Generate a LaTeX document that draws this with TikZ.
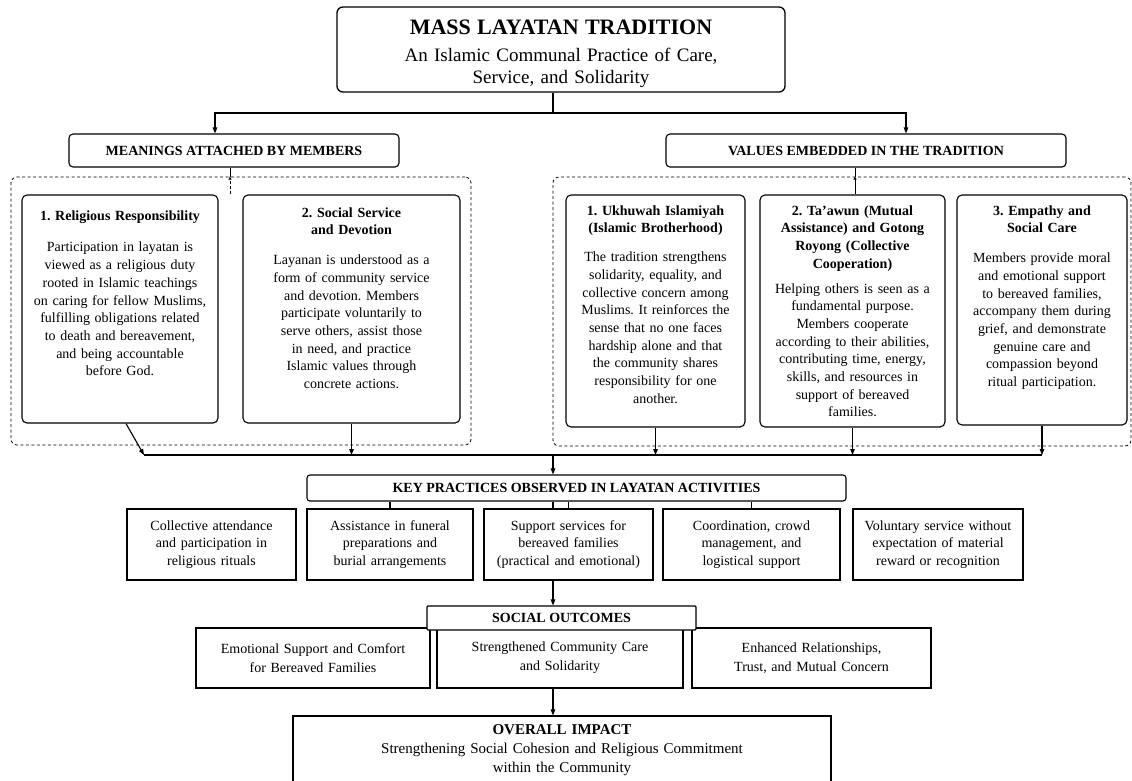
\documentclass[tikz,border=0pt]{standalone}
\usepackage{fontspec}
\setmainfont{Liberation Serif}
\usetikzlibrary{arrows.meta,positioning}
\frenchspacing

\begin{document}
\begin{tikzpicture}[x=1pt,y=-1pt,line width=1.1pt,
    box/.style={draw,rectangle,fill=white,inner sep=0pt,align=center,
      font=\fontsize{14}{17.7}\selectfont},
    hdr/.style={box,rounded corners=4pt,font=\fontsize{14}{17}\selectfont\bfseries},
    card/.style={box,rounded corners=5pt},
    cardtext/.style={anchor=north,inner sep=0pt,align=center,
      font=\fontsize{14}{17.7}\selectfont},
    outcome/.style={box,font=\fontsize{14}{19}\selectfont},
    group/.style={draw,line width=0.8pt,dash pattern=on 3pt off 2.5pt,
      rounded corners=6pt,inner sep=0pt},
    arr/.style={-{Triangle[length=6pt,width=4.5pt]}}]
  \useasboundingbox (0,0) rectangle (1132,780);

  % top
  \node[box,rounded corners=6pt,line width=1.3pt,minimum width=448,minimum height=85]
    (title) at (561,49.5) {};
  \node[inner sep=0pt,align=center,text width=440,font=\fontsize{19}{22}\selectfont]
    (titletext) at ([yshift=-4pt]title.center)
    {{\fontsize{22}{26}\selectfont\bfseries MASS LAYATAN TRADITION\par}
     \vspace{5pt}
     {An Islamic Communal Practice of Care,\\
      Service, and Solidarity\par}};
  \node[hdr,minimum width=330,minimum height=33] (meanings) at (234,150.5)
    {MEANINGS ATTACHED BY MEMBERS};
  \node[hdr,minimum width=400,minimum height=33] (values) at (866,150.5)
    {VALUES EMBEDDED IN THE TRADITION};

  % groups
  \node[group,minimum width=460,minimum height=268] (mgroup) at (241,311) {};
  \node[group,minimum width=578,minimum height=269] (vgroup) at (842,311.5) {};

  % meanings
  \node[card,minimum width=196,minimum height=228] (m1) at (120,309) {};
  \node[cardtext,text width=192] (m1t) at ([yshift=-15.5pt]m1.north)
    {{\bfseries 1. Religious Responsibility}\\[14pt]
     Participation in layatan is\\
     viewed as a religious duty\\
     rooted in Islamic teachings\\
     on caring for fellow Muslims,\\
     fulfilling obligations related\\
     to death and bereavement,\\
     and being accountable\\
     before God.};
  \node[card,minimum width=217,minimum height=228] (m2) at (351.5,309) {};
  \node[cardtext,text width=212] (m2t) at ([yshift=-12.5pt]m2.north)
    {{\bfseries 2. Social Service\\and Devotion}\\[12pt]
     Layanan is understood as a\\
     form of community service\\
     and devotion. Members\\
     participate voluntarily to\\
     serve others, assist those\\
     in need, and practice\\
     Islamic values through\\
     concrete actions.};

  % values
  \node[card,minimum width=179,minimum height=232] (v1) at (655.5,311) {};
  \node[cardtext,text width=176] (v1t) at ([yshift=-10.5pt]v1.north)
    {{\bfseries 1. Ukhuwah Islamiyah\\(Islamic Brotherhood)}\\[11pt]
     The tradition strengthens\\
     solidarity, equality, and\\
     collective concern among\\
     Muslims. It reinforces the\\
     sense that no one faces\\
     hardship alone and that\\
     the community shares\\
     responsibility for one\\
     another.};
  \node[card,minimum width=185,minimum height=232] (v2) at (852.5,311) {};
  \node[cardtext,text width=182] (v2t) at ([yshift=-10.5pt]v2.north)
    {{\bfseries 2. Ta’awun (Mutual\\Assistance) and Gotong\\Royong (Collective\\Cooperation)}\\[7pt]
     Helping others is seen as a\\
     fundamental purpose.\\
     Members cooperate\\
     according to their abilities,\\
     contributing time, energy,\\
     skills, and resources in\\
     support of bereaved\\
     families.};
  \node[card,minimum width=170,minimum height=230] (v3) at (1042,310) {};
  \node[cardtext,text width=167] (v3t) at ([yshift=-10.5pt]v3.north)
    {{\bfseries 3. Empathy and\\Social Care}\\[12pt]
     Members provide moral\\
     and emotional support\\
     to bereaved families,\\
     accompany them during\\
     grief, and demonstrate\\
     genuine care and\\
     compassion beyond\\
     ritual participation.};

  % key practices
  \node[hdr,rounded corners=3pt,minimum width=539,minimum height=26] (key) at (576.5,488)
    {KEY PRACTICES OBSERVED IN LAYATAN ACTIVITIES};
  \node[box,minimum width=169,minimum height=71,text width=165] (k1) at (211.5,544.5)
    {Collective attendance\\and participation in\\religious rituals};
  \node[box,minimum width=166,minimum height=71,text width=162] (k2) at (390,544.5)
    {Assistance in funeral\\preparations and\\burial arrangements};
  \node[box,minimum width=169,minimum height=71,text width=165] (k3) at (568.5,544.5)
    {Support services for\\bereaved families\\(practical and emotional)};
  \node[box,minimum width=177,minimum height=71,text width=173] (k4) at (751.5,544.5)
    {Coordination, crowd\\management, and\\logistical support};
  \node[box,minimum width=170,minimum height=71,text width=166] (k5) at (938,544.5)
    {Voluntary service without\\expectation of material\\reward or recognition};

  % outcomes
  \node[outcome,minimum width=234,minimum height=60,text width=230] (o1) at (313,658)
    {Emotional Support and Comfort\\for Bereaved Families};
  \node[outcome,minimum width=246,minimum height=60,text width=242] (o2) at (560,658)
    {Strengthened Community Care\\and Solidarity};
  \node[outcome,minimum width=239,minimum height=60,text width=235] (o3) at (811.5,658)
    {Enhanced Relationships,\\Trust, and Mutual Concern};
  \node[hdr,rounded corners=1pt,minimum width=269,minimum height=24] (outhead) at (561.5,618)
    {SOCIAL OUTCOMES};
  \node[box,minimum width=538,minimum height=68,text width=530,
    font=\fontsize{15}{19}\selectfont] (impact) at (562,750)
    {{\bfseries OVERALL IMPACT}\\
     Strengthening Social Cohesion and Religious Commitment\\
     within the Community};

  % connectors
  \coordinate (spine) at (553,113);
  \coordinate (jm) at (215,113);
  \coordinate (jv) at (906,113);
  \draw (title.south -| spine) -- (spine);
  \draw[arr] (spine) -- (jm) -- (jm |- meanings.north);
  \draw[arr] (spine) -- (jv) -- (jv |- values.north);

  \coordinate (tm) at (230,0);
  \coordinate (tv) at (855,0);
  \draw[line width=0.8pt] (meanings.south -| tm) -- (mgroup.north -| tm);
  \draw[line width=0.6pt,densely dashed,-{Triangle[length=3pt,width=3pt]}]
    (m1.north -| tm) -- (mgroup.north -| tm);
  \draw[line width=0.8pt] (values.south -| tv) -- (vgroup.north -| tv);
  \draw[line width=0.8pt,-{Triangle[length=3pt,width=3pt]}] (v2.north -| tv) -- (vgroup.north -| tv);

  \coordinate (cl) at (144,455);
  \coordinate (cr) at (1042,455);
  \draw (cl) -- (cr);
  \draw[arr] ([xshift=6pt]m1.south) -- (cl);
  \draw[arr] (m2.south) -- (m2.south |- cl);
  \draw[arr] (v1.south) -- (v1.south |- cl);
  \draw[arr] (v2.south) -- (v2.south |- cl);
  \draw[arr] (v3.south) -- (v3.south |- cl);
  \draw[arr] (cl -| spine) -- (key.north -| spine);

  \draw (k2.north) -- (k2.north |- key.south);
  \draw (k3.north) -- (k3.north |- key.south);
  \draw (k4.north) -- (k4.north |- key.south);
  \draw (key.south -| spine) -- (k3.north -| spine);
  \draw[arr] (k3.south -| spine) -- (outhead.north -| spine);
  \draw[arr] (o2.south -| spine) -- (impact.north -| spine);
\end{tikzpicture}
\end{document}
